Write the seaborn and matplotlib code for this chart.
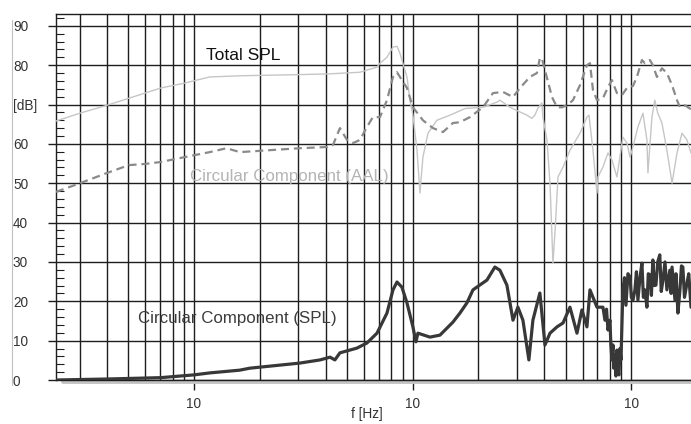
import matplotlib
matplotlib.use("Agg")
import matplotlib.pyplot as plt
from matplotlib.lines import Line2D
from matplotlib.ticker import LogLocator, FixedLocator, NullFormatter, MultipleLocator
import seaborn as sns
import pandas as pd

# ---------------- data ----------------
total_freq = [23.4, 30.1, 40.0, 50.4, 59.7, 70.6, 90, 118, 162, 305, 419, 574, 687, 709,
              763, 813, 848, 875, 893, 942, 972, 1003, 1047, 1080, 1114, 1175, 1291, 1482,
              1740, 2096, 2427, 2506, 2786, 3096, 3330, 3509, 3622, 3740, 3898, 3942, 4113,
              4246, 4382, 4480, 4620, 4872, 5240, 5821, 6265, 6400, 6675, 6965, 7036, 7416,
              7818, 8150, 8590, 9148, 9546, 9861, 10171, 10716, 11297, 11782, 11908, 12420,
              12800, 13210, 13800, 14540, 15350, 16170, 17040, 17960, 18740]
total_db = [65.8, 67.8, 69.8, 71.6, 72.9, 74.2, 75.4, 77.0, 77.3, 77.6, 77.8, 78.2, 79.5, 80.5,
            82.0, 84.6, 84.8, 83.0, 81.3, 77.0, 71.0, 67.3, 58.4, 47.5, 56.6, 62.7, 66.0, 67.3,
            69.0, 69.3, 70.6, 71.1, 69.3, 68.1, 67.3, 66.5, 67.3, 69.1, 70.4, 66.8, 61.0,
            50.0, 29.7, 38.0, 51.6, 54.1, 58.4, 62.7, 66.8, 67.3, 58.4, 47.5, 51.6, 54.1,
            57.7, 55.9, 51.6, 61.7, 60.2, 56.6, 59.2, 64.3, 67.8, 61.0, 52.6, 66.8,
            71.1, 67.8, 65.3, 58.4, 50.0, 57.7, 62.7, 61.0, 57.7]

aal_freq = [23.4, 30.1, 40.0, 50.4, 59.7, 70.6, 90, 118, 141, 162, 305, 406, 432, 465, 501,
            534, 574, 618, 658, 709, 763, 813, 848, 893, 942, 1003, 1114, 1239, 1376, 1528,
            1645, 1828, 2096, 2329, 2587, 2876, 3096, 3436, 3700, 3817, 3898, 4027, 4337,
            4571, 4822, 5082, 5408, 5821, 6265, 6468, 6675, 6965, 7416, 7818, 8150, 8590,
            9057, 9546, 10171, 10606, 11178, 11535, 12160, 12540, 13090, 13800, 14540,
            15350, 16170, 16680, 17580, 18740]
aal_db = [47.8, 50.0, 52.6, 54.6, 54.9, 55.4, 56.6, 57.9, 58.9, 57.9, 58.9, 59.2, 59.7, 64.0, 61.0,
          60.2, 61.0, 64.3, 66.8, 66.8, 71.1, 77.0, 78.2, 76.2, 74.2, 69.3, 66.0, 64.0, 63.0, 65.3,
          65.5, 66.8, 69.3, 72.9, 73.2, 71.9, 74.2, 77.0, 78.0, 81.8, 81.8, 78.7, 71.9,
          69.3, 69.3, 69.8, 71.1, 74.9, 80.0, 80.5, 73.7, 71.1, 71.6, 74.4, 76.2, 72.9,
          72.4, 74.2, 74.7, 77.0, 81.3, 80.5, 81.3, 80.0, 77.0, 79.2, 78.0,
          74.9, 71.1, 69.3, 69.8, 68.8]

spl_freq = [23.4, 40.0, 70.6, 100, 118, 162, 180, 305, 377, 419, 441, 465, 556, 618, 687,
            763, 813, 848, 893, 942, 1003, 1035, 1057, 1200, 1333, 1528, 1645, 1771, 1887,
            2187, 2377, 2506, 2698, 2876, 3029, 3193, 3400, 3547, 3817, 4027, 4246, 4571,
            4872, 5240, 5641, 5943, 6265, 6468, 6965, 7416, 7574, 7700, 7818, 7984, 8060,
            8150, 8240, 8300, 8414, 8500, 8590, 8680, 8777, 8870, 8966,
            9148, 9300, 9447, 9650, 9861, 10000, 10171, 10385, 10550, 10716, 10950, 11178,
            11350, 11535, 11782, 11950, 12160, 12350, 12540, 12750, 12955, 13200, 13490,
            13700, 13950, 14250, 14540, 15000, 15200, 15350, 15830, 16000, 16330, 16680,
            16950, 17200, 17500, 17960, 18300, 18740]
spl_db = [0.0, 0.25, 0.6, 1.3, 1.8, 2.5, 3.0, 4.3, 5.1, 5.8, 5.1, 6.9, 8.1, 9.4, 11.9,
          17.0, 22.9, 24.9, 23.6, 19.6, 13.5, 9.7, 11.9, 10.9, 11.4, 14.7, 17.0, 19.6, 22.9,
          25.4, 28.7, 27.9, 24.1, 15.2, 18.5, 15.2, 5.1, 15.2, 22.1, 8.9, 11.9, 13.5,
          14.5, 18.5, 11.9, 17.8, 13.5, 22.9, 18.5, 18.5, 15.2, 18.0, 12.7, 15.2, 9.0,
          5.1, 8.9, 3.0, 6.4, 1.0, 7.6, 2.0, 1.3, 8.0, 5.1,
          22.9, 26.0, 19.0, 27.0, 26.2, 21.0, 20.3, 22.9, 27.5, 20.3, 26.0, 29.7,
          21.0, 22.9, 18.5, 27.0, 26.7, 21.5, 30.5, 24.0, 24.1, 30.0, 31.8,
          22.5, 25.4, 30.0, 22.9, 27.9, 22.0, 28.7, 20.3, 27.0, 17.0, 22.9,
          29.0, 28.7, 21.0, 24.6, 27.0, 18.5]

y_ticks = [0, 10, 20, 30, 40, 50, 60, 70, 80, 90]
y_tick_labels = ["0", "10", "20", "30", "40", "50", "60", "[dB]", "80", "90"]
x_ticks = [100, 1000, 10000]
x_tick_labels = ["10", "10", "10"]

# ---------------- style ----------------
sns.set_theme(style="white")
plt.rcParams["font.family"] = ["Liberation Sans", "DejaVu Sans"]

fig = plt.figure(figsize=(6.91, 4.24), dpi=100)
ax = fig.add_axes([56 / 691, 44 / 424, 635 / 691, 366 / 424])

df_total = pd.DataFrame({"f": total_freq, "dB": total_db})
df_aal = pd.DataFrame({"f": aal_freq, "dB": aal_db})
df_spl = pd.DataFrame({"f": spl_freq, "dB": spl_db})

sns.lineplot(data=df_total, x="f", y="dB", ax=ax, color="#c6c6c6", linewidth=1.0,
             estimator=None, sort=False, zorder=3)
sns.lineplot(data=df_aal, x="f", y="dB", ax=ax, color="#8a8a8a", linewidth=1.6,
             linestyle=(0, (3.6, 2.2)), estimator=None, sort=False, zorder=4)
sns.lineplot(data=df_spl, x="f", y="dB", ax=ax, color="#383838", linewidth=2.3,
             estimator=None, sort=False, zorder=5)

ax.set_xscale("log")
ax.set_xlim(23.4, 18740)
ax.set_ylim(0, 93)

ax.xaxis.set_major_locator(FixedLocator(x_ticks))
ax.set_xticklabels(x_tick_labels)
ax.xaxis.set_minor_locator(LogLocator(base=10, subs=[2, 3, 4, 5, 6, 7, 8, 9], numticks=20))
ax.xaxis.set_minor_formatter(NullFormatter())
ax.set_yticks(y_ticks)
ax.set_yticklabels(y_tick_labels)
ax.yaxis.set_minor_locator(MultipleLocator(2))

grid_col = "#1e1e1e"
ax.grid(True, which="major", axis="both", color=grid_col, linewidth=1.0)
ax.grid(True, which="minor", axis="x", color=grid_col, linewidth=1.0)
ax.set_axisbelow(True)

ax.tick_params(axis="x", which="major", direction="out", length=7.2, width=1.0,
               color=grid_col, pad=5, labelsize=9.8, labelcolor="#333333", bottom=True)
ax.tick_params(axis="x", which="minor", length=0)
ax.tick_params(axis="y", which="major", direction="out", length=5.8, width=1.0,
               color=grid_col, pad=25.2, labelsize=9.8, labelcolor="#333333", left=True)
ax.tick_params(axis="y", which="minor", direction="in", length=5.8, width=0.8,
               color=grid_col, left=True)
for lbl in ax.get_yticklabels():
    lbl.set_horizontalalignment("left")

ax.spines["right"].set_visible(False)
for side in ["top", "left", "bottom"]:
    ax.spines[side].set_visible(True)
    ax.spines[side].set_color(grid_col)
    ax.spines[side].set_linewidth(1.0)

ax.set_ylabel("")
ax.set_xlabel("f [Hz]", fontsize=9.8, color="#333333")
ax.xaxis.set_label_coords(0.49, -0.075)

# gray base bar under the zero line
ax.axhline(-0.55, xmin=0.011, xmax=1.0, color="#c4c4c4", linewidth=2.8, clip_on=False, zorder=1)
# thin frame line at left
fig.add_artist(Line2D([12 / 691, 12 / 691], [1 - 20 / 424, 1 - 385 / 424],
                      color="#c0c0c0", linewidth=0.8))

# annotations
ax.text(113.5, 82.5, "Total SPL", fontsize=12.6, color="#111111", va="center", ha="left")
ax.text(95.9, 51.8, "Circular Component (AAL)", fontsize=12.2, color="#b4b4b4",
        va="center", ha="left")
ax.text(55.4, 15.7, "Circular Component (SPL)", fontsize=12.2, color="#3c3c3c",
        va="center", ha="left")

fig.savefig("out.png", dpi=100)
